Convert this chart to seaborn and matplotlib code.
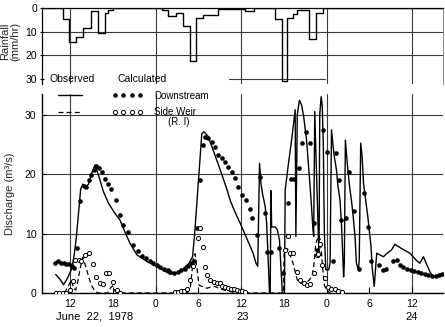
import matplotlib
matplotlib.use("Agg")
import matplotlib.pyplot as plt
import matplotlib.transforms as mtransforms
from matplotlib.lines import Line2D
from matplotlib.legend_handler import HandlerTuple
from matplotlib.ticker import FixedLocator, FixedFormatter
import pandas as pd
import seaborn as sns

# ---------------- data (time in hours from June 22, 0:00) ----------------
rain_t = [8.0, 10.95, 11.9, 12.9, 13.85, 14.9, 15.95, 16.9, 17.3, 18.0,
          24.9, 25.8, 26.9, 27.9, 28.85, 29.75, 30.65, 32.8, 36.6, 37.8,
          40.8, 41.7, 42.4, 43.3, 43.8, 45.6, 46.5, 47.5, 64.4]
rain_mm = [0, 4.5, 14.2, 12.2, 8.5, 1.2, 10.4, 2.0, 0.7, 0,
           0.7, 3.1, 1.9, 7.5, 22.4, 4.3, 2.9, 0.4, 1.0, 0,
           4.5, 31.0, 4.3, 2.4, 0.7, 13.2, 2.1, 0, 0]

calc_ds_t = [10.0, 10.6, 11.1, 11.7, 12.25, 12.6, 12.9, 13.2, 13.5, 13.8,
             14.2, 14.6, 15.0, 15.5, 16.0, 16.7, 17.4, 18.3, 19.0, 19.7,
             20.4, 21.4, 22.8, 24.4, 26.0, 27.0, 27.9, 28.7, 29.2, 29.5,
             30.0, 30.5, 30.8, 31.4, 32.1, 33.0, 34.0, 34.5, 35.2, 35.9,
             36.8, 37.7, 38.1, 38.35, 38.6, 38.8, 39.0, 39.4, 39.6, 39.8,
             40.0, 40.1, 40.2, 40.3, 40.8, 41.1, 41.4, 41.6, 41.8, 42.1,
             42.2, 42.6, 43.1, 43.6, 43.7, 43.9, 44.2, 44.5, 44.8, 45.2,
             45.6, 45.9, 46.1, 46.2, 46.35, 46.5, 46.8, 46.95, 47.05, 47.25,
             47.4, 47.55, 47.7, 47.9, 48.3, 48.5, 48.7, 48.9, 49.1, 49.4,
             49.6, 49.9, 50.1, 50.25, 50.4, 50.5, 50.65, 50.9, 51.1, 51.3,
             51.5, 51.75, 52.0, 52.2, 52.5, 52.6, 52.8, 53.0, 53.2, 53.5,
             53.8, 54.0, 54.25, 54.4, 54.7, 55.05, 55.5, 56.0, 56.5, 57.1,
             57.6, 58.1, 58.9, 59.7, 60.6, 61.1, 61.6, 62.0, 62.5, 63.0,
             63.6, 64.1]
calc_ds_q = [3.1, 2.3, 1.4, 2.6, 4.1, 6.5, 9.5, 13.5, 17.5, 18.3,
             17.9, 18.3, 20.0, 21.5, 19.8, 17.0, 15.1, 13.4, 12.3, 10.3,
             8.4, 6.4, 5.3, 4.3, 3.2, 3.3, 4.1, 5.0, 6.1, 10.0,
             18.4, 26.8, 27.1, 26.3, 24.0, 21.0, 17.5, 15.5, 13.5, 11.7,
             9.2, 6.7, 5.0, 4.5, 21.8, 18.4, 16.8, 14.5, 11.7, 6.1,
             0, 0, 17.2, 11.1, 11.1, 10.6, 8.9, 4.4, 0, 0,
             17.3, 21.2, 25.7, 30.8, 9.5, 30.0, 32.4, 31.6, 29.6, 25.7,
             19.5, 14.5, 10.6, 9.5, 30.5, 24.0, 12.0, 6.0, 30.0, 33.0,
             31.5, 25.0, 10.0, 3.9, 3.9, 5.0, 27.4, 25.0, 22.9, 20.7,
             18.0, 15.6, 11.7, 7.2, 2.7, 5.0, 25.7, 22.0, 19.5, 17.3,
             15.6, 12.8, 9.5, 5.0, 3.9, 6.0, 25.2, 22.9, 18.4, 15.6,
             12.8, 10.6, 7.8, 4.4, 1.1, 6.7, 6.4, 6.1, 6.7, 7.2,
             8.2, 7.8, 7.2, 6.7, 5.5, 5.0, 6.1, 5.0, 3.6, 2.6,
             3.0, 3.2]

obs_ds_t = [9.9, 10.3, 10.7, 11.1, 11.5, 11.9, 12.3, 12.6, 12.95, 13.45,
            13.9, 14.3, 14.6, 15.0, 15.3, 15.6, 16.1, 16.5, 16.9, 17.4,
            17.8, 18.5, 19.0, 19.5, 20.1, 20.9, 21.5, 22.1, 22.7, 23.2,
            23.7, 24.2, 24.6, 25.2, 25.7, 26.1, 26.6, 27.1, 27.6, 28.1,
            28.5, 29.0, 29.4, 29.8, 30.2, 30.6, 31.0, 31.4, 31.9, 32.35,
            32.8, 33.3, 33.75, 34.2, 34.7, 35.2, 35.6, 36.2, 36.7, 37.2,
            37.6, 38.2, 38.7, 39.3, 39.7, 40.2, 41.3, 41.85, 42.6, 43.0,
            43.5, 44.2, 44.5, 45.1, 45.7, 46.2, 46.7, 47.45, 48.0, 48.85,
            49.3, 49.8, 50.05, 50.7, 51.2, 51.8, 52.5, 53.2, 53.8, 54.3,
            55.3, 55.9, 56.3, 57.4, 57.9, 58.3, 58.8, 59.3, 59.8, 60.3,
            60.8, 61.3, 61.8, 62.3, 62.8, 63.3, 63.8, 64.2]
obs_ds_q = [5.0, 5.3, 5.1, 5.0, 4.9, 4.8, 4.6, 4.2, 7.6, 15.5,
            18.0, 17.9, 19.0, 19.8, 20.6, 21.3, 21.0, 20.4, 19.2, 18.3,
            17.4, 15.6, 13.1, 11.5, 10.2, 8.0, 7.1, 6.3, 5.8, 5.4,
            5.1, 4.7, 4.4, 4.1, 3.8, 3.5, 3.4, 3.5, 3.8, 4.1,
            4.5, 5.0, 5.4, 10.9, 19.0, 24.9, 26.3, 26.0, 25.4, 24.6,
            23.2, 22.7, 22.1, 21.2, 20.4, 19.3, 17.9, 16.5, 15.6, 14.2,
            12.6, 9.7, 19.5, 13.5, 6.9, 6.9, 7.5, 3.3, 15.1, 19.1,
            19.1, 21.0, 25.2, 27.1, 25.2, 11.7, 7.2, 27.4, 23.7, 5.3,
            23.5, 19.0, 12.2, 12.6, 20.4, 13.7, 4.1, 16.8, 11.1, 5.3,
            4.7, 3.9, 4.0, 5.3, 5.5, 4.7, 4.4, 4.1, 3.9, 3.7,
            3.5, 3.3, 3.2, 3.0, 2.8, 2.8, 3.0, 3.2]

calc_sw_t = [11.2, 11.7, 12.2, 12.5, 12.8, 13.1, 13.4, 13.8, 14.2, 14.6,
             15.0, 15.5, 16.0, 17.3, 17.7, 18.0, 18.4, 18.8, 28.5, 28.9,
             29.3, 29.55, 29.85, 30.1, 30.6, 31.2, 31.8, 32.3, 32.9, 33.6,
             34.3, 35.0, 35.5, 41.95, 42.05, 42.4, 42.7, 43.0, 43.3, 43.6,
             43.9, 44.4, 45.0, 45.6, 46.0, 46.2, 46.5, 46.9, 47.1, 47.3,
             47.5, 47.7, 48.0, 48.5]
calc_sw_q = [0, 1.0, 2.2, 0.8, 0.5, 2.0, 4.0, 6.0, 4.5, 2.8,
             1.3, 0.3, 0, 0, 0.9, 1.2, 0.2, 0, 0, 1.0,
             5.8, 6.6, 3.9, 1.3, 1.1, 0.8, 1.0, 1.1, 0.8, 0.5,
             0.3, 0.1, 0, 0, 7.0, 7.5, 7.2, 6.0, 5.0, 3.6,
             2.2, 1.6, 1.6, 2.2, 3.0, 4.4, 8.3, 9.7, 9.0, 6.7,
             3.6, 1.3, 0.5, 0]

obs_sw_t = [10.0, 10.5, 11.0, 11.5, 12.0, 12.4, 12.75, 13.2, 13.6, 14.1,
            14.6, 15.2, 15.7, 16.2, 16.6, 17.05, 17.5, 18.1, 18.6, 19.0,
            26.8, 27.2, 27.6, 28.0, 28.4, 28.9, 29.3, 29.9, 30.3, 30.6,
            30.9, 31.2, 31.7, 32.2, 32.6, 33.0, 33.4, 33.8, 34.2, 34.6,
            35.0, 35.4, 35.8, 36.2, 36.6,
            42.2, 42.6, 42.9, 43.3, 43.8, 44.3, 44.8, 45.3, 45.75, 46.3,
            46.6, 46.85, 47.1, 47.3, 47.75, 48.25, 48.7, 49.2, 49.6, 50.2]
obs_sw_q = [0, 0, 0, 0, 0.5, 2.0, 5.5, 5.5, 5.3, 6.4,
            6.7, 4.8, 2.7, 1.6, 1.5, 3.4, 3.4, 1.9, 0.5, 0,
            0.1, 0.2, 0.4, 0.3, 0.6, 2.2, 4.5, 9.2, 10.9, 7.8,
            4.4, 3.0, 2.2, 1.9, 1.7, 1.7, 1.2, 1.0, 0.8, 0.7,
            0.6, 0.5, 0.4, 0.3, 0.2,
            7.3, 9.5, 6.8, 6.7, 3.6, 2.2, 1.6, 1.3, 1.5, 3.3,
            6.4, 6.6, 8.3, 4.7, 2.5, 1.0, 0.7, 0.6, 0.4, 0.2]

major_ticks = [12, 24, 36, 48, 60]
major_labels = ["12", "0", "12", "0", "12"]
minor_ticks = [18, 30, 42, 54]
minor_labels = ["18", "6", "18", "6"]
date_pos = [15.5, 36.3, 60.0]
date_labels = ["June  22,  1978", "23", "24"]

# ---------------- figure ----------------
sns.set_theme(style="white")
plt.rcParams["font.family"] = ["Liberation Sans", "DejaVu Sans"]

K = "black"
GC = "#3a3a3a"
fig = plt.figure(figsize=(4.45, 3.27), dpi=100)
L, W = 42 / 445, 401 / 445
ax_r = fig.add_axes([L, 1 - 83.7 / 327, W, (83.7 - 8.3) / 327])
ax_q = fig.add_axes([L, 1 - 293 / 327, W, (293 - 93.7) / 327], sharex=ax_r)

# rainfall hyetograph
rain = pd.DataFrame({"t": rain_t, "mm": rain_mm})
sns.lineplot(data=rain, x="t", y="mm", ax=ax_r, color=K, lw=1.0,
             drawstyle="steps-post", estimator=None, sort=False)
ax_r.set_ylim(32, 0)
ax_r.set_xlim(8.07, 64.35)
ax_r.set_yticks([0, 10, 20, 30])
ax_r.set_yticklabels(["0", "10", "20", "30"])
for v in (10, 20):
    ax_r.axhline(v, color=GC, lw=0.8, zorder=0)
x0, x1 = ax_r.get_xlim()
ax_r.axhline(30, xmin=(34.3 - x0) / (x1 - x0), xmax=(47.8 - x0) / (x1 - x0),
             color=GC, lw=0.8, zorder=0)
ax_r.grid(axis="x", which="major", color=GC, lw=0.8)
ax_r.grid(axis="y", visible=False)
for s in ("left", "top"):
    ax_r.spines[s].set_color(K)
    ax_r.spines[s].set_linewidth(0.9)
ax_r.spines["right"].set_color("#777777")
ax_r.spines["right"].set_linewidth(0.6)
ax_r.spines["bottom"].set_visible(False)
ax_r.set_xlabel("")
ax_r.set_ylabel("Rainfall\n(mm/hr)", fontsize=8, linespacing=0.95)
ax_r.yaxis.set_label_coords(-0.055, 0.56)
ax_r.tick_params(axis="y", left=True, direction="inout", length=3, width=0.8,
                 pad=2, labelsize=7.5, colors=K)

# discharge hydrographs
ds_calc = pd.DataFrame({"t": calc_ds_t, "q": calc_ds_q})
ds_obs = pd.DataFrame({"t": obs_ds_t, "q": obs_ds_q})
sw_calc = pd.DataFrame({"t": calc_sw_t, "q": calc_sw_q})
sw_obs = pd.DataFrame({"t": obs_sw_t, "q": obs_sw_q})

sns.lineplot(data=ds_calc, x="t", y="q", ax=ax_q, color=K, lw=1.0,
             estimator=None, sort=False)
sns.lineplot(data=sw_calc, x="t", y="q", ax=ax_q, color=K, lw=0.9,
             estimator=None, sort=False, dashes=False, linestyle=(0, (4, 2.5)))
sns.scatterplot(data=ds_obs, x="t", y="q", ax=ax_q, color=K, s=11,
                linewidth=0, zorder=4)
sns.scatterplot(data=sw_obs, x="t", y="q", ax=ax_q, color="white",
                edgecolor=K, linewidth=0.7, s=9, zorder=4)

ax_q.set_ylim(0, 33.5)
ax_q.set_yticks([0, 10, 20, 30])
ax_q.set_yticklabels(["0", "10", "20", "30"])
ax_q.xaxis.set_major_locator(FixedLocator(major_ticks))
ax_q.xaxis.set_major_formatter(FixedFormatter(major_labels))
ax_q.xaxis.set_minor_locator(FixedLocator(minor_ticks))
ax_q.xaxis.set_minor_formatter(FixedFormatter(minor_labels))
ax_q.set_xlim(8.07, 64.35)
ax_q.grid(axis="x", which="major", color=GC, lw=0.8)
ax_q.grid(axis="y", which="major", color=GC, lw=0.8)
ax_q.tick_params(axis="x", which="both", bottom=True, direction="in",
                 length=4, width=0.8, pad=4, labelsize=7.5, colors=K)
ax_q.tick_params(axis="y", left=True, direction="in", length=3, width=0.8,
                 pad=4, labelsize=7.5, colors=K)
ax_r.tick_params(axis="x", which="both", bottom=False, labelbottom=False)
for s in ("left", "bottom"):
    ax_q.spines[s].set_color(K)
    ax_q.spines[s].set_linewidth(1.0)
for s in ("top", "right"):
    ax_q.spines[s].set_visible(False)
ax_q.set_xlabel("")
ax_q.set_ylabel("Discharge (m³/s)", fontsize=8)
ax_q.yaxis.set_label_coords(-0.067, 0.5)

trans = mtransforms.blended_transform_factory(ax_q.transData, ax_q.transAxes)
for p, lab in zip(date_pos, date_labels):
    ax_q.text(p, -0.12, lab, transform=trans, ha="center", va="center",
              fontsize=8, color=K)

# legend
h_ds = (Line2D([], [], color=K, lw=1.0),
        Line2D([], [], color=K, marker="o", ls="none", ms=3.3, mew=0))
h_sw = (Line2D([], [], color=K, lw=0.9, ls=(0, (4, 2.5))),
        Line2D([], [], marker="o", ls="none", ms=3.0, mfc="white", mec=K, mew=0.7))
leg = ax_q.legend([h_ds, h_sw], ["Downstream", "Side Weir"],
                  handler_map={tuple: HandlerTuple(ndivide=None, pad=2.78)},
                  numpoints=4, handlelength=9.05, handletextpad=1.2,
                  loc="upper left", bbox_to_anchor=(0.032, 1.015),
                  frameon=False, borderpad=0, borderaxespad=0,
                  fontsize=7, labelspacing=0.65)
for t in leg.get_texts():
    t.set_color(K)
ax_q.text(0.314, 0.858, "(R. I)", transform=ax_q.transAxes, ha="left",
          va="center", fontsize=7, color=K)
fig.text(50 / 445, 1 - 79 / 327, "Observed", ha="left", va="center",
         fontsize=7.5, color=K)
fig.text(117 / 445, 1 - 79 / 327, "Calculated", ha="left", va="center",
         fontsize=7.5, color=K)

fig.savefig("out.png", dpi=100, facecolor="white")
